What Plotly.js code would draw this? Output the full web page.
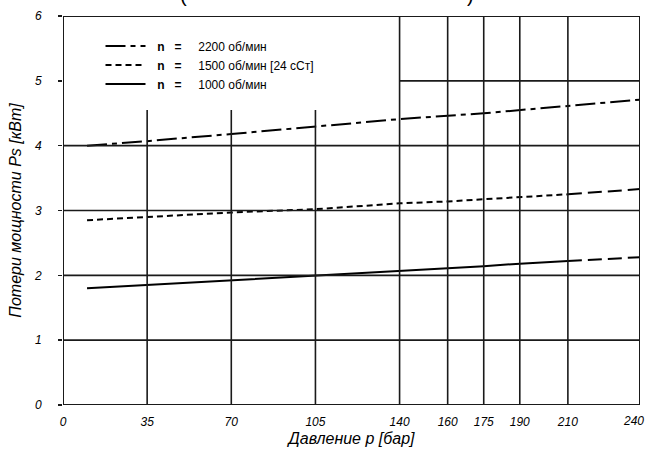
<!DOCTYPE html>
<html>
<head>
<meta charset="utf-8">
<script src="https://cdn.plot.ly/plotly-3.0.1.min.js"></script>
<style>html,body{margin:0;padding:0;background:#fff;}#chart{width:647px;height:454px;}</style>
</head>
<body>
<div id="chart"></div>
<script>
// ---- data ----
const pressure2200 = [10, 35, 70, 105, 140, 175, 210, 240];
const loss2200     = [4.00, 4.07, 4.18, 4.29, 4.41, 4.50, 4.61, 4.71];

const pressure1500 = [10, 35, 70, 105, 140, 160, 175, 190, 210];
const loss1500     = [2.85, 2.90, 2.97, 3.02, 3.11, 3.14, 3.17, 3.20, 3.25];
const pressure1500ext = [210, 240];
const loss1500ext     = [3.25, 3.33];

const pressure1000 = [10, 35, 70, 105, 140, 175, 190, 210];
const loss1000     = [1.80, 1.85, 1.93, 2.00, 2.07, 2.14, 2.18, 2.22];
const pressure1000ext = [210, 240];
const loss1000ext     = [2.22, 2.28];

const xTickVals = [0, 35, 70, 105, 140, 160, 175, 190, 210, 240];
const yTickVals = [0, 1, 2, 3, 4, 5, 6];
const NB = "\u00A0";
const legendPrefix = NB + NB + "<b>n</b>" + NB + NB + NB + "<b>=</b>" + NB.repeat(5);
const legendNames = [legendPrefix + "2200 об/мин", legendPrefix + "1500 об/мин [24 сСт]", legendPrefix + "1000 об/мин"];
const xTitle = "Давление p [бар]";
const yTitle = "Потери мощности Ps [кВт]";

// ---- traces ----
const black = "#000";
const traces = [
  {x: pressure2200, y: loss2200, mode: "lines", name: legendNames[0],
   line: {color: black, width: 2, dash: "20px,5px,5px,5px"}},
  {x: pressure1500, y: loss1500, mode: "lines", name: legendNames[1],
   line: {color: black, width: 2, dash: "6px,4px"}},
  {x: pressure1500ext, y: loss1500ext, mode: "lines", showlegend: false,
   line: {color: black, width: 2, dash: "14px,6px"}},
  {x: pressure1000, y: loss1000, mode: "lines", name: legendNames[2],
   line: {color: black, width: 2, dash: "solid"}},
  {x: pressure1000ext, y: loss1000ext, mode: "lines", showlegend: false,
   line: {color: black, width: 2, dash: "14px,6px"}}
];

// ---- grid (drawn as shapes, matching the partial grid of the original) ----
const gc = "#1a1a1a", gw = 1.6;
const shapes = [];
[35, 70, 105].forEach(v => shapes.push({type: "line", xref: "x", yref: "y", x0: v, x1: v, y0: 0, y1: 4.55, line: {color: gc, width: gw}}));
[140, 160, 175, 190, 210].forEach(v => shapes.push({type: "line", xref: "x", yref: "y", x0: v, x1: v, y0: 0, y1: 6, line: {color: gc, width: gw}}));
[1, 2, 3, 4].forEach(v => shapes.push({type: "line", xref: "x", yref: "y", x0: 0, x1: 240, y0: v, y1: v, line: {color: gc, width: gw}}));
shapes.push({type: "line", xref: "x", yref: "y", x0: 140, x1: 240, y0: 5, y1: 5, line: {color: gc, width: gw}});
// frame
shapes.push({type: "rect", xref: "x", yref: "y", x0: 0, x1: 240, y0: 0, y1: 6, line: {color: gc, width: 2}});

const tickFont = {family: "Liberation Sans, Arial, sans-serif", size: 12, color: "#000", style: "italic"};
const lastX = xTickVals[xTickVals.length - 1];

const layout = {
  width: 647, height: 454,
  margin: {l: 63, r: 7, t: 16, b: 49},
  paper_bgcolor: "#fff", plot_bgcolor: "#fff",
  showlegend: true,
  legend: {x: 0.065, y: 0.96, xanchor: "left", yanchor: "top", bgcolor: "rgba(0,0,0,0)",
           font: {family: "Liberation Sans, Arial, sans-serif", size: 12, color: "#000"},
           tracegroupgap: 0, itemwidth: 40},
  xaxis: {range: [0, 240], tickvals: xTickVals,
          ticktext: xTickVals.map(v => v === lastX ? "" : String(v)),
          showgrid: false, zeroline: false, showline: false, ticks: "", ticklen: 0,
          tickfont: tickFont, ticklabelstandoff: 8,
          title: {text: xTitle, standoff: 4, font: {family: "Liberation Sans, Arial, sans-serif", size: 16, color: "#000", style: "italic"}}},
  yaxis: {range: [0, 6], tickvals: yTickVals, ticktext: yTickVals.map(String),
          showgrid: false, zeroline: false, showline: false, ticks: "outside", ticklen: 4, tickwidth: 1.6, tickcolor: gc,
          tickfont: tickFont, ticklabelstandoff: 14,
          title: {text: yTitle, standoff: 8, font: {family: "Liberation Sans, Arial, sans-serif", size: 16, color: "#000", style: "italic"}}},
  shapes: shapes,
  annotations: [
    // last x tick label, kept inside the page edge
    {text: String(lastX), xref: "x", yref: "paper", x: lastX, y: 0, xanchor: "right", yanchor: "top",
     xshift: 6, yshift: -7, showarrow: false, font: tickFont},
    {text: "(", xref: "paper", yref: "paper", x: (183 - 63) / 577, y: 1.02, xanchor: "center", yanchor: "bottom", showarrow: false,
     font: {family: "Liberation Sans, Arial, sans-serif", size: 20, color: "#000"}},
    {text: ")", xref: "paper", yref: "paper", x: (470 - 63) / 577, y: 1.02, xanchor: "center", yanchor: "bottom", showarrow: false,
     font: {family: "Liberation Sans, Arial, sans-serif", size: 20, color: "#000"}}
  ]
};

Plotly.newPlot("chart", traces, layout, {displayModeBar: false, staticPlot: true});
</script>
</body>
</html>
